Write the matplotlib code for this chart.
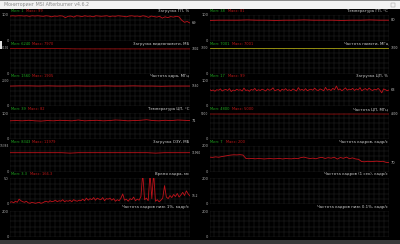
import matplotlib
matplotlib.use("Agg")
import matplotlib.pyplot as plt
from matplotlib.patches import Rectangle
import numpy as np

plt.rcParams['font.family'] = 'DejaVu Sans'

W, H = 400, 244

# --- данные мониторинга ---
gpu_load = [96, 97, 96, 97, 97, 96, 97, 95, 97, 96, 97, 96, 95, 97, 96, 93, 96,
            95, 97, 96, 90, 95, 96, 92, 97, 96, 94, 97, 95, 96, 93, 97, 96, 95,
            96, 97, 94, 96, 95, 97, 96, 95, 93, 96, 97, 95, 96, 94, 97, 95, 91,
            96, 94, 92, 95, 88, 93, 90, 94, 92, 95, 93, 80, 72, 75, 69]
vram = [7905, 7905, 7906, 7906, 7905, 7904, 7870, 7802, 7802, 7801, 7802, 7803,
        7802, 7802, 7801, 7802, 7803, 7802, 7802, 7802]
core_clock = [1560, 1575, 1575, 1560, 1575, 1560, 1560, 1575, 1560, 1560, 1575,
              1560, 1560, 1575, 1560, 1560, 1545, 1560, 1560, 1560]
cpu_temp = [70, 71, 70, 72, 70, 69, 71, 70, 72, 71, 70, 73, 70, 71, 72, 70, 71,
            73, 72, 70, 71, 72, 74, 71, 70, 72, 71, 73, 72, 71]
ram = [11950, 11955, 11960, 11958, 11962, 11960, 11961, 11700, 11958, 11960,
       11962, 11960, 11959, 11961, 11960, 11962, 11960, 11700, 11961, 11960,
       11958, 11960]
frametime = [4, 5, 3, 6, 4, 10, 7, 5, 4, 6,
             3, 2, 4, 3, 2, 3, 4, 2, 3, 5,
             6, 4, 7, 5, 6, 8, 5, 7, 6, 9,
             5, 7, 6, 8, 5, 9, 7, 6, 8, 7,
             10, 7, 12, 8, 11, 9, 13, 8, 12, 10,
             9, 13, 7, 11, 10, 12, 8, 11, 6, 9,
             7, 12, 20, 8, 10, 6, 11, 9, 14, 7,
             10, 8, 15, 60, 9, 12, 7, 60, 11, 60,
             6, 9, 5, 8, 12, 36, 14, 11, 17, 13,
             19, 15, 21, 14, 18, 23, 17, 26, 20, 16.2]
gpu_temp = [79, 80, 80, 80, 81, 80, 80, 79, 80, 80, 81, 80, 80, 80, 79, 80, 80,
            81, 80, 80]
mem_clock = [7000] * 20
cpu_load = [66, 60, 63, 58, 64, 62, 67, 59, 63, 65, 61, 68, 57, 63, 60, 66, 62,
            64, 59, 70, 61, 63, 58, 65, 62, 69, 60, 64, 61, 66, 63, 59, 67, 62,
            64, 71, 60, 63, 65, 58, 66, 62, 68, 61, 64, 60, 67, 63, 59, 72, 62,
            65, 61, 68, 60, 64, 66, 62, 70, 63, 61, 67, 64, 60, 73, 62, 66, 61,
            69, 64, 78, 63, 67, 60, 65, 71, 62, 66, 64, 69, 61, 67, 63, 72, 60,
            65, 68, 62, 70, 64, 61, 66, 63, 69, 62, 52, 67, 64, 60, 63]
cpu_clock = [4800, 4800, 4790, 4800, 4810, 4800, 4800, 4795, 4800, 4800, 4805,
             4800, 4800, 4790, 4800, 4800, 4800, 4810, 4800, 4800]
framerate = [112, 110, 114, 111, 116, 120, 124, 128, 130, 129,
             131, 128, 101, 100, 102, 99, 101, 100, 98, 100,
             101, 99, 100, 102, 98, 101, 100, 99, 103, 100,
             108, 112, 106, 101, 104, 99, 107, 110, 102, 108,
             104, 111, 97, 109, 103, 112, 100, 106, 98, 95,
             78, 76, 80, 77, 79, 81, 78, 80, 72, 70]

left_names = ["Загрузка ГП, %", "Загрузка видеопамяти, МБ", "Частота ядра, МГц",
              "Температура ЦП, °C", "Загрузка ОЗУ, МБ", "Время кадра, мс",
              "Частота кадров низк 1%, кадр/с"]
right_names = ["Температура ГП, °C", "Частота памяти, МГц", "Загрузка ЦП, %",
               "Частота ЦП, МГц", "Частота кадров, кадр/с",
               "Частота кадров (1 сек), кадр/с", "Частота кадров низк 0.1%, кадр/с"]
left_max = [100, 8192, 2000, 100, 16384, 50, 200]
right_max = [100, 7000, 100, 5000, 200, 200, 200]
left_data = [gpu_load, vram, core_clock, cpu_temp, ram, frametime, None]
right_data = [gpu_temp, mem_clock, cpu_load, cpu_clock, framerate, None, None]
left_minmax = [("1", "99"), ("6240", "7970"), ("1560", "1905"), ("39", "82"),
               ("8343", "11979"), ("3.3", "166.3"), None]
right_minmax = [("38", "81"), ("7001", "7001"), ("17", "99"), ("4800", "5000"),
                ("7", "200"), None, None]

line_colors = {"Частота памяти, МГц": "#a8a212",
               "Частота ЦП, МГц": "#8c0a0a",
               "Загрузка видеопамяти, МБ": "#9c0c0c"}
RED = "#c0121a"
GRID = "#262626"

COL_X0 = [10, 209.5]
COL_X1 = [190, 389]
TOP0 = 15
PITCH = 32.67
PH = 26

fig = plt.figure(figsize=(W / 100, H / 100), dpi=100)
fig.patch.set_facecolor("black")


def fx(x):
    return x / W


def fy(y):
    return 1 - y / H


def txt(x, y, s, **kw):
    kw.setdefault("fontsize", 3)
    kw.setdefault("va", "center")
    kw.setdefault("color", "#bdbdbd")
    return fig.text(fx(x), fy(y), s, **kw)


def fmt(v):
    if float(v).is_integer():
        return str(int(v))
    return f"{v:.1f}"


def num_size(s):
    return 2.6 if len(s) < 4 else 2.1


def panel(col, row, name, vmax, series, minmax):
    x0, x1 = COL_X0[col], COL_X1[col]
    top = TOP0 + row * PITCH
    ax = fig.add_axes([fx(x0), fy(top + PH), (x1 - x0) / W, PH / H])
    ax.set_facecolor("black")
    n = len(series) if series else 2
    ax.set_xlim(0, n - 1)
    ax.set_ylim(0, vmax)
    ax.set_xticks(np.linspace(0, n - 1, 37))
    ax.set_yticks(np.linspace(0, vmax, 6))
    ax.grid(True, color=GRID, lw=0.35)
    ax.tick_params(length=0, labelbottom=False, labelleft=False)
    for s in ax.spines.values():
        s.set_visible(False)

    if series:
        c = line_colors.get(name, RED)
        ax.plot(np.arange(n), series, color=c, lw=0.6, clip_on=True)
        last = fmt(series[-1])
        ly = top + PH * (1 - min(series[-1], vmax) / vmax)
        txt(x1 + 1.5, ly, last, ha="left", fontsize=num_size(last))

    # подписи шкалы
    sv = str(vmax)
    txt(x0 - 1.2, top + 0.5, sv, ha="right", fontsize=num_size(sv), color="#a8a8a8")
    txt(x0 - 1.2, top + PH, "0", ha="right", fontsize=2.6, color="#a8a8a8")
    # заголовок графика
    txt(x1 - 1, top - 4, name, ha="right", fontsize=2.8, color="#d0d0d0")
    if minmax:
        s_min = f"Мин: {minmax[0]}"
        txt(x0 + 1, top - 4, s_min, ha="left", fontsize=2.6, color="#1fa81f")
        txt(x0 + 5 + len(s_min) * 1.9, top - 4, f"Макс: {minmax[1]}",
            ha="left", fontsize=2.6, color="#c01818")


for r in range(7):
    panel(0, r, left_names[r], left_max[r], left_data[r], left_minmax[r])
    panel(1, r, right_names[r], right_max[r], right_data[r], right_minmax[r])

# окно: заголовок и края
fig.patches.append(Rectangle((0, fy(9)), 1, 9 / H, transform=fig.transFigure,
                             facecolor="#f2f2f2", edgecolor="none", zorder=5))
fig.patches.append(Rectangle((0, fy(1)), 1, 1 / H, transform=fig.transFigure,
                             facecolor="#8a8a8a", edgecolor="none", zorder=6))
fig.patches.append(Rectangle((fx(391), fy(7)), 4 / W, 4 / H,
                             transform=fig.transFigure, facecolor="none",
                             edgecolor="#909090", lw=0.3, zorder=6))
fig.text(fx(4), fy(4.5), "Мониторинг MSI Afterburner v4.6.2", fontsize=3.4,
         color="#8c8c8c", va="center", zorder=7)
fig.patches.append(Rectangle((0, 0), 1, 4 / H, transform=fig.transFigure,
                             facecolor="#3a3a3a", edgecolor="none", zorder=5))
fig.patches.append(Rectangle((0, fy(49)), 2 / W, 8 / H, transform=fig.transFigure,
                             facecolor="#e0e0e0", edgecolor="none", zorder=5))

fig.savefig("out.png", dpi=100, facecolor=fig.get_facecolor())
